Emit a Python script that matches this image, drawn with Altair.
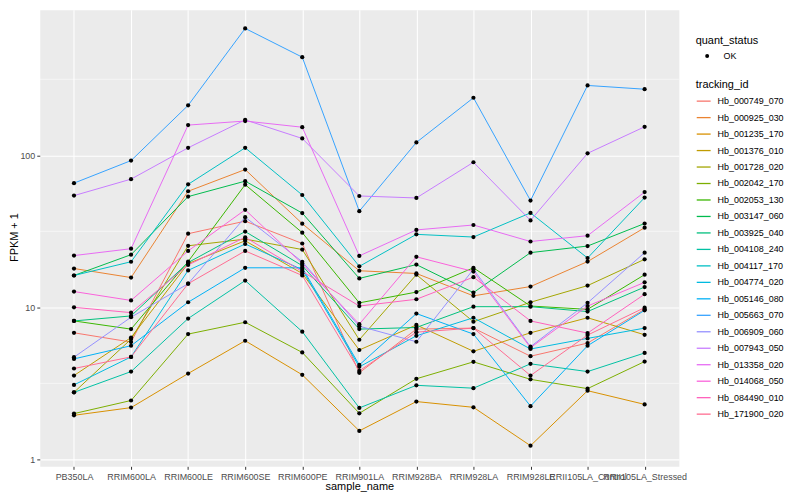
import altair as alt
import pandas as pd

samples = ["PB350LA", "RRIM600LA", "RRIM600LE", "RRIM600SE", "RRIM600PE",
           "RRIM901LA", "RRIM928BA", "RRIM928LA", "RRIM928LE",
           "RRII105LA_Control", "RRII105LA_Stressed"]

tracking_ids = ["Hb_000749_070", "Hb_000925_030", "Hb_001235_170", "Hb_001376_010",
                "Hb_001728_020", "Hb_002042_170", "Hb_002053_130", "Hb_003147_060",
                "Hb_003925_040", "Hb_004108_240", "Hb_004117_170", "Hb_004774_020",
                "Hb_005146_080", "Hb_005663_070", "Hb_006909_060", "Hb_007943_050",
                "Hb_013358_020", "Hb_014068_050", "Hb_084490_010", "Hb_171900_020"]

colors = ["#F8766D", "#EA8331", "#D89000", "#C09B00", "#A3A500", "#7CAE00", "#39B600",
          "#00BB4E", "#00BF7D", "#00C1A3", "#00BFC4", "#00BAE0", "#00B0F6", "#35A2FF",
          "#9590FF", "#C77CFF", "#E76BF3", "#FA62DB", "#FF62BC", "#FF6C91"]

# FPKM + 1 per sample (same order as samples)
hb_000749_070 = [6.80, 5.91, 30.5, 36.9, 26.3, 3.71, 7.19, 7.30, 4.77, 5.82, 9.70]
hb_000925_030 = [18.0, 15.7, 58.0, 80.6, 35.5, 17.4, 16.7, 11.9, 13.7, 20.0, 33.4]
hb_001235_170 = [1.95, 2.19, 3.67, 6.03, 3.60, 1.54, 2.40, 2.20, 1.23, 2.83, 2.30]
hb_001376_010 = [3.56, 6.33, 19.4, 27.4, 16.7, 5.24, 7.66, 5.14, 6.80, 8.54, 6.60]
hb_001728_020 = [2.76, 6.18, 25.4, 28.1, 24.0, 6.12, 16.4, 8.04, 10.8, 13.9, 20.7]
hb_002042_170 = [2.00, 2.44, 6.67, 7.98, 5.05, 2.01, 3.39, 4.38, 3.36, 2.92, 4.40]
hb_002053_130 = [8.14, 7.19, 20.0, 64.1, 31.0, 10.7, 12.6, 18.2, 10.2, 9.70, 16.4]
hb_003147_060 = [16.2, 22.2, 53.5, 67.6, 41.7, 15.5, 19.1, 12.5, 22.9, 25.3, 35.6]
hb_003925_040 = [8.14, 8.78, 19.7, 31.5, 18.8, 7.19, 7.37, 10.1, 10.1, 9.38, 13.6]
hb_004108_240 = [2.76, 3.78, 8.44, 15.0, 6.92, 2.18, 3.07, 2.94, 4.25, 3.78, 5.01]
hb_004117_170 = [16.2, 19.95, 64.4, 112.0, 54.8, 18.6, 30.2, 29.0, 41.8, 21.1, 52.7]
hb_004774_020 = [3.09, 4.72, 17.5, 26.1, 17.7, 4.06, 6.50, 8.54, 5.32, 6.25, 7.30]
hb_005146_080 = [4.58, 5.59, 10.8, 18.2, 18.2, 4.18, 9.10, 6.67, 2.24, 5.59, 9.56]
hb_005663_070 = [65.6, 92.3, 213.0, 683.0, 442.0, 42.9, 121.5, 239.0, 50.4, 288.0, 272.0]
hb_006909_060 = [4.70, 8.61, 14.3, 39.2, 19.95, 7.52, 5.94, 17.8, 5.51, 10.7, 22.9]
hb_007943_050 = [54.3, 69.7, 112.0, 171.0, 129.0, 54.0, 52.4, 90.0, 37.3, 103.0, 154.0]
hb_013358_020 = [21.9, 24.3, 158.0, 168.0, 153.0, 21.8, 32.3, 34.8, 27.1, 29.6, 57.3]
hb_014068_050 = [12.7, 11.1, 23.5, 43.8, 19.4, 7.75, 21.5, 17.2, 5.43, 10.2, 14.6]
hb_084490_010 = [10.0, 9.23, 19.0, 28.9, 17.2, 10.2, 11.3, 15.8, 8.14, 6.77, 12.2]
hb_171900_020 = [3.96, 4.72, 14.3, 23.5, 16.2, 3.82, 6.87, 7.30, 3.56, 6.57, 9.95]

series = [hb_000749_070, hb_000925_030, hb_001235_170, hb_001376_010, hb_001728_020,
          hb_002042_170, hb_002053_130, hb_003147_060, hb_003925_040, hb_004108_240,
          hb_004117_170, hb_004774_020, hb_005146_080, hb_005663_070, hb_006909_060,
          hb_007943_050, hb_013358_020, hb_014068_050, hb_084490_010, hb_171900_020]

rows = []
for tid, vals in zip(tracking_ids, series):
    for s, v in zip(samples, vals):
        rows.append({"tracking_id": tid, "sample_name": s, "fpkm": v, "quant_status": "OK"})
df = pd.DataFrame(rows)

minor_df = pd.DataFrame({"fpkm": [10 ** 0.5, 10 ** 1.5, 10 ** 2.5]})

FONT = "Liberation Sans"

x_enc = alt.X("sample_name:N", sort=samples,
              scale=alt.Scale(type="point", padding=0.6),
              axis=alt.Axis(title="sample_name", grid=True, gridColor="white", gridWidth=1.07,
                            domain=False, ticks=True, tickColor="#333333", tickSize=3,
                            labelAngle=0, labelOverlap=False, labelBound=False,
                            labelColor="#4D4D4D", labelFontSize=9, labelPadding=3,
                            titleFontSize=11, titleColor="black", titleFontWeight="normal",
                            titleBaseline="middle", titleY=20.5))
y_enc = alt.Y("fpkm:Q",
              scale=alt.Scale(type="log", domain=[0.9, 905], nice=False),
              axis=alt.Axis(title="FPKM + 1", values=[1, 10, 100], format="d",
                            grid=True, gridColor="white", gridWidth=1.07,
                            domain=False, ticks=True, tickColor="#333333", tickSize=3,
                            labelColor="#4D4D4D", labelFontSize=9, labelPadding=2,
                            titleFontSize=11, titleColor="black", titleFontWeight="normal",
                            titleBaseline="middle", titleX=-25, titleY=229))

minor = alt.Chart(minor_df).mark_rule(color="white", strokeWidth=0.55).encode(y=y_enc)

lines = alt.Chart(df).mark_line(strokeWidth=1).encode(
    x=x_enc, y=y_enc,
    color=alt.Color("tracking_id:N",
                    scale=alt.Scale(domain=tracking_ids, range=colors),
                    legend=alt.Legend(title="tracking_id", orient="none", direction="vertical",
                                      legendX=661, legendY=70, symbolType="stroke",
                                      symbolSize=196, symbolStrokeWidth=1.3,
                                      titlePadding=3, rowPadding=3.6, labelOffset=6,
                                      labelFontSize=9, labelColor="black",
                                      titleFontSize=11, titleColor="black",
                                      titleFontWeight="normal", padding=0)),
)

points = alt.Chart(df).mark_point(filled=True, color="black", size=18, opacity=1).encode(
    x=x_enc, y=y_enc,
    shape=alt.Shape("quant_status:N", scale=alt.Scale(range=["circle"]),
                    legend=alt.Legend(title="quant_status", orient="none", direction="vertical",
                                      legendX=661, legendY=25, symbolSize=16,
                                      symbolFillColor="black", symbolStrokeWidth=0,
                                      symbolOffset=7, labelOffset=12, titlePadding=6,
                                      labelFontSize=9, labelColor="black",
                                      titleFontSize=11, titleColor="black",
                                      titleFontWeight="normal", padding=0)),
)

chart = alt.layer(minor, lines, points).properties(
    width=644, height=460,
    padding={"left": 32, "top": 0, "right": 114, "bottom": 24},
    autosize=alt.AutoSizeParams(type="none"),
).configure(font=FONT, background="white").configure_view(fill="#EBEBEB", stroke="transparent")

chart.save("out.html", embed_options={"renderer": "svg", "actions": False})
